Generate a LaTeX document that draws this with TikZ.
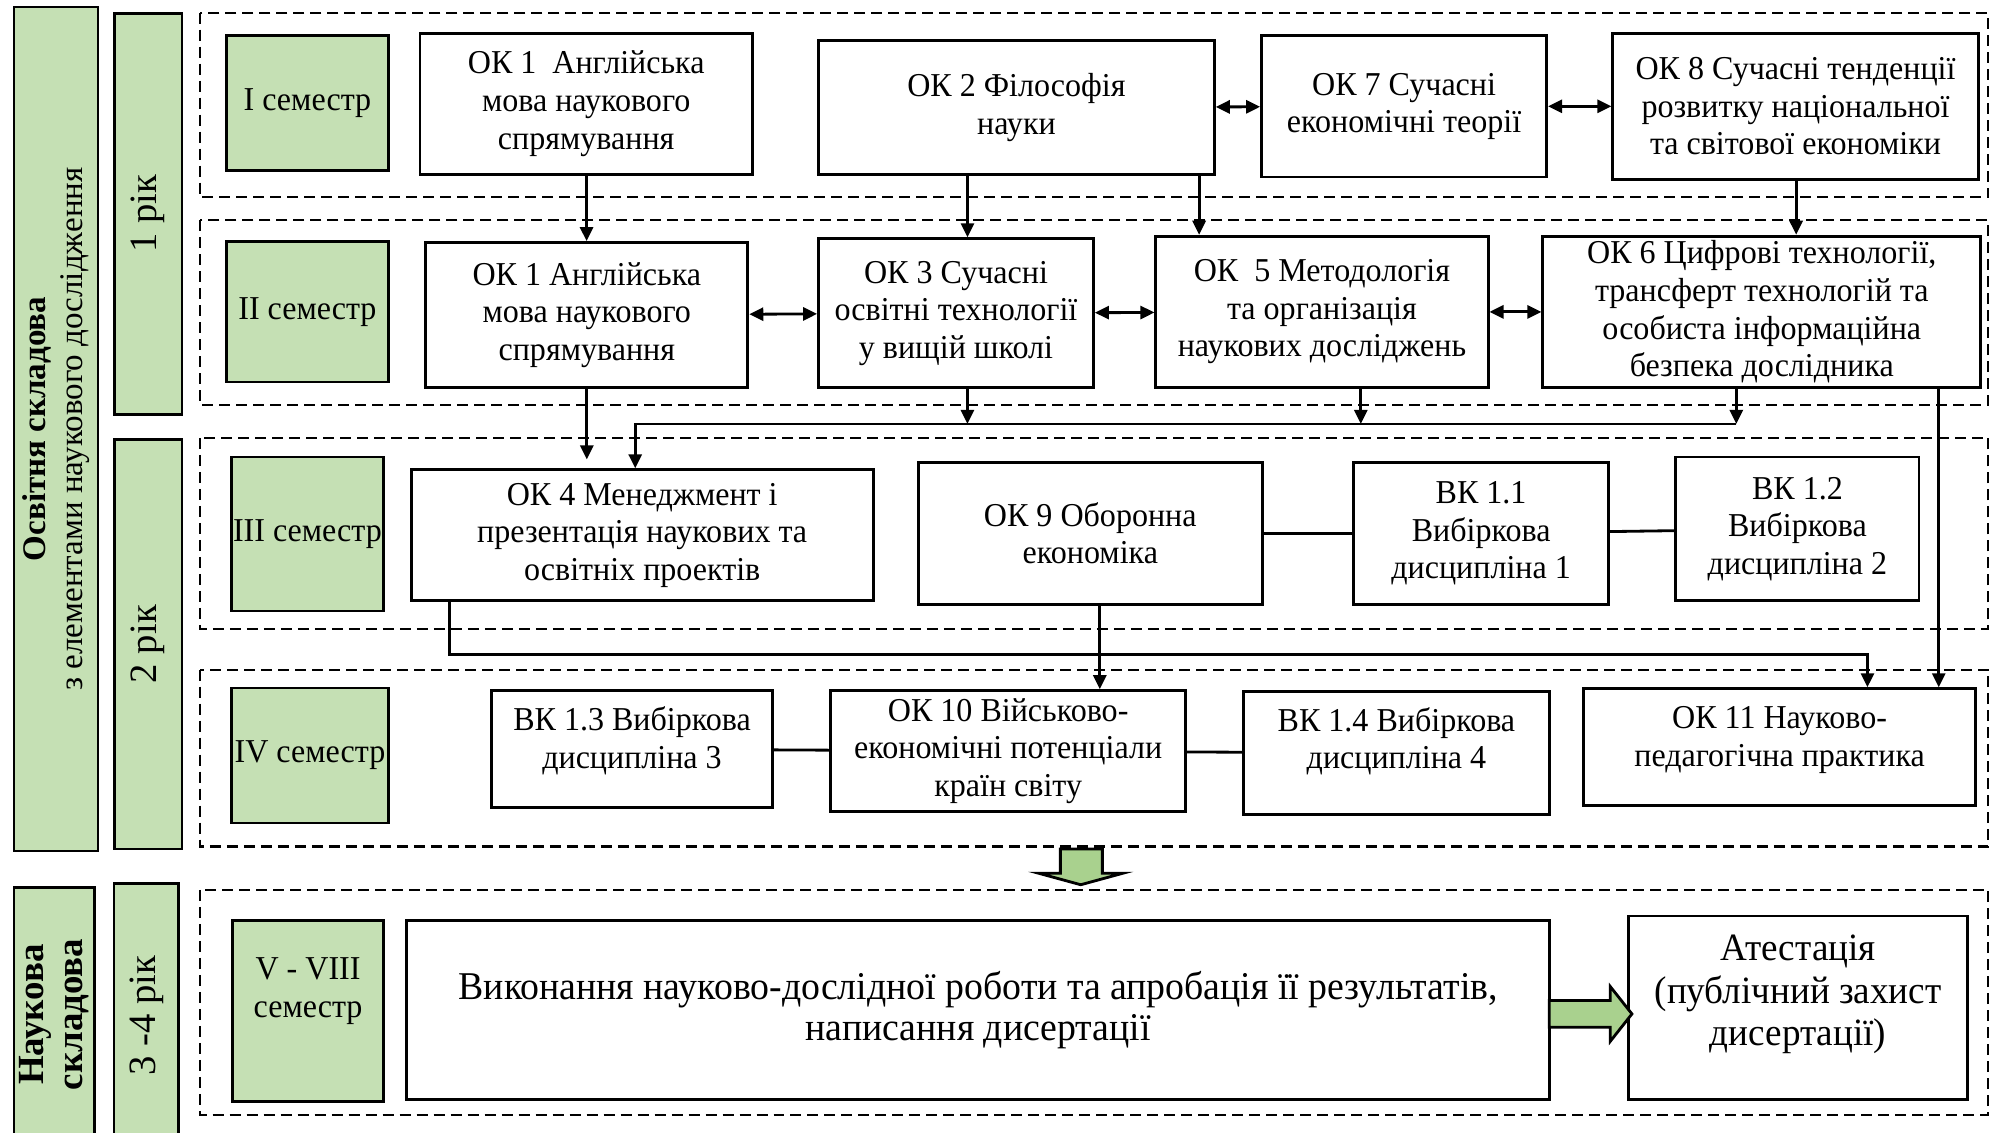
\documentclass[tikz,border=0pt]{standalone}
\usepackage{fontspec}
\setmainfont{Liberation Serif}[FakeStretch=0.96]
\newfontfamily\uprightfont{Liberation Serif}
\usetikzlibrary{arrows.meta}
\definecolor{semgreen}{HTML}{C5E0B4}
\definecolor{arrowgreen}{HTML}{A9D18E}
\newdimen\pxunit
\pxunit=0.1273mm

\begin{document}
\begin{tikzpicture}[x=0.1273mm, y=-0.1273mm,
    course/.style 2 args={draw, line width=0.8pt, fill=white, align=center, inner sep=0pt,
        minimum width=#1*\pxunit, minimum height=#2*\pxunit, font=\fontsize{9.5}{10.7}\selectfont},
    semester/.style 2 args={course={#1}{#2}, fill=semgreen},
    yearbar/.style 2 args={draw, line width=0.8pt, fill=semgreen, rotate=90, align=center, inner sep=0pt,
        minimum width=#2*\pxunit, minimum height=#1*\pxunit, font=\uprightfont\fontsize{11}{12}\selectfont},
    frame/.style={line width=0.6pt, dash pattern=on 1.1mm off 0.6mm},
    arr/.style={line width=0.8pt, -{Triangle[length=1.4mm, width=1.3mm]}},
    dbl/.style={line width=0.8pt, {Triangle[length=1.4mm, width=1.3mm]}-{Triangle[length=1.4mm, width=1.3mm]}},
    link/.style={line width=0.8pt},
    bigarrow/.style={draw, line width=0.8pt, fill=arrowgreen}]
\useasboundingbox (0,0) rectangle (1568,890);

\draw[frame] (157,10) rectangle (1562,155);
\draw[frame] (157,173) rectangle (1562,318);
\draw[frame] (157,344) rectangle (1562,494);
\draw[frame] (157,526) rectangle (1562,665);
\draw[frame] (157,699) rectangle (1562,876);

\node[yearbar={66}{663}, font=\uprightfont\fontsize{9.4}{10.6}\selectfont] (edu) at (44,337)
    {{\bfseries Освітня складова}\\з елементами наукового дослідження};
\node[yearbar={53}{315}] (yr1) at (116.5,168) {1 рік};
\node[yearbar={53}{322}] (yr2) at (116.5,506) {2 рік};
\node[yearbar={63}{200}, font=\uprightfont\bfseries\fontsize{10.5}{11}\selectfont] (sci) at (42.5,797) {Наукова\\складова};
\node[yearbar={51}{208}] (yr34) at (115,798) {3 -4 рік};

\node[semester={127}{106}] (sem1) at (241.5,81) {I семестр};
\node[semester={127}{110}] (sem2) at (241.5,245) {II семестр};
\node[semester={119}{121}] (sem3) at (241.5,419.5) {III семестр};
\node[semester={123}{106}] (sem4) at (243.5,593.5) {IV семестр};
\node[semester={119}{142}, text depth=4.6mm] (sem5) at (242,794) {V - VIII\\семестр};

\node[course={261}{111}] (ok1a) at (460.5,81.5) {ОК 1\ \ Англійська\\мова наукового\\спрямування};
\node[course={311}{105}] (ok2) at (798.5,84.5) {ОК 2 Філософія\\науки};
\node[course={224}{111}] (ok7) at (1103,83.5) {ОК 7 Сучасні\\економічні теорії};
\node[course={287}{115}] (ok8) at (1410.5,83.5) {ОК 8 Сучасні тенденції\\розвитку національної\\та світової економіки};

\node[course={253}{114}] (ok1b) at (461,247.5) {ОК 1 Англійська\\мова наукового\\спрямування};
\node[course={216}{117}] (ok3) at (751,246) {ОК 3 Сучасні\\освітні технології\\у вищій школі};
\node[course={261}{119}] (ok5) at (1038.5,245) {ОК\ \ 5 Методологія\\та організація\\наукових досліджень};
\node[course={344}{119}] (ok6) at (1384,245) {ОК 6 Цифрові технології,\\трансферт технологій та\\особиста інформаційна\\безпека дослідника};

\node[course={363}{103}] (ok4) at (504.5,420.5) {ОК 4 Менеджмент і\\презентація наукових та\\освітніх проектів};
\node[course={270}{112}] (ok9) at (856.5,419) {ОК 9 Оборонна\\економіка};
\node[course={200}{112}] (vk11) at (1163.5,419) {ВК 1.1\\Вибіркова\\дисципліна 1};
\node[course={191}{113}] (vk12) at (1412,415.5) {ВК 1.2\\Вибіркова\\дисципліна 2};

\node[course={221}{92}, text depth=2.3mm] (vk13) at (496.5,588.5) {ВК 1.3 Вибіркова\\дисципліна 3};
\node[course={279}{95}] (ok10) at (792,590) {ОК 10 Військово-\\економічні потенціали\\країн світу};
\node[course={240}{97}, text depth=3mm] (vk14) at (1097,591.5) {ВК 1.4 Вибіркова\\дисципліна 4};
\node[course={308}{92}, text depth=2.2mm] (ok11) at (1398,587) {ОК 11 Науково-\\педагогічна практика};

\node[course={898}{141}, font=\fontsize{11.2}{11.6}\selectfont] (work) at (768.5,793.5)
    {Виконання науково-дослідної роботи та апробація її результатів,\\написання дисертації};
\node[course={266}{144}, text depth=3.4mm, font=\fontsize{11}{12.1}\selectfont] (atest) at (1412.5,791.5)
    {Атестація\\(публічний захист\\дисертації)};

\coordinate (bus) at (0,333);
\coordinate (low) at (0,514);
\coordinate (c1) at (760,0);
\coordinate (c2) at (942,0);
\coordinate (c3) at (1411,0);
\coordinate (c4) at (1069,0);
\coordinate (c5) at (1364,0);
\coordinate (c6) at (499,0);
\coordinate (c7) at (1523,0);
\coordinate (c8) at (353,0);
\coordinate (c9) at (1467,0);
\coordinate (c10) at (864,0);

\draw[dbl] (ok2) -- (ok7);
\draw[dbl] (ok7) -- (ok8);
\draw[dbl] (ok1b) -- (ok3);
\draw[dbl] (ok3) -- (ok5);
\draw[dbl] (ok5) -- (ok6);

\draw[arr] (ok1a) -- (ok1b);
\draw[arr] (ok2.south -| c1) -- (ok3.north -| c1);
\draw[arr] (ok2.south -| c2) -- (ok5.north -| c2);
\draw[arr] (ok8.south -| c3) -- (ok6.north -| c3);

\draw[arr] (ok3.south -| c1) -- (bus -| c1);
\draw[arr] (ok5.south -| c4) -- (bus -| c4);
\draw[arr] (ok6.south -| c5) -- (bus -| c5);
\draw[arr] (bus -| c5) -- (bus -| c6) -- (ok4.north -| c6);
\draw[arr, shorten >=7*\pxunit] (ok1b) -- (ok4.north -| ok1b);
\draw[arr] (ok6.south -| c7) -- (ok11.north -| c7);

\draw[link] (ok9) -- (vk11);
\draw[link] (vk11) -- (vk12);
\draw[arr] (ok4.south -| c8) -- (low -| c8) -- (low -| c9) -- (ok11.north -| c9);
\draw[arr] (ok9.south -| c10) -- (ok10.north -| c10);

\draw[link] (vk13) -- (ok10);
\draw[link] (ok10) -- (vk14);

\draw[bigarrow] (833,667) -- (866,667) -- (866,686) -- (882,686) -- (849,695) -- (816,686) -- (833,686) -- cycle;
\draw[bigarrow] (1217,786) -- (1265,786) -- (1265,775) -- (1282,796.5) -- (1265,818) -- (1265,807) -- (1217,807) -- cycle;
\end{tikzpicture}
\end{document}
